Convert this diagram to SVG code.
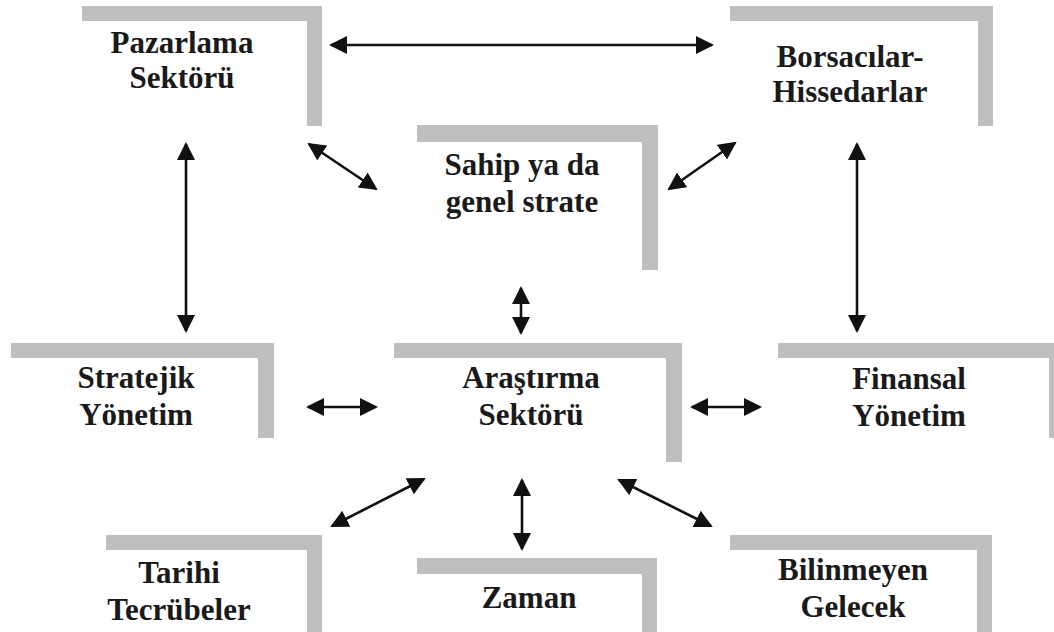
<svg xmlns="http://www.w3.org/2000/svg" width="1054" height="632" viewBox="0 0 1054 632">
<style>
.bar{fill:#bfbfbf}
.t{font-family:"Liberation Serif","Times New Roman",serif;font-weight:bold;font-size:31px;fill:#1a1a1a;text-anchor:middle}
.c{stroke:#111;stroke-width:2.6;fill:none;marker-start:url(#ah);marker-end:url(#ah)}
</style>
<defs>
<marker id="ah" markerUnits="userSpaceOnUse" markerWidth="20" markerHeight="20" viewBox="0 0 20 20" refX="16" refY="9" orient="auto-start-reverse">
<path d="M0,0 L18,9 L0,18 Z" fill="#111"/>
</marker>
</defs>
<rect width="1054" height="632" fill="#fff"/>
<g id="pazarlama">
<path class="bar" d="M82,6 H322 V126 H307 V21 H82 Z"/>
<text class="t" x="182" y="53">Pazarlama</text>
<text class="t" x="182" y="88">Sektörü</text>
</g>
<g id="borsacilar">
<path class="bar" d="M730,6 H993 V126 H978 V21 H730 Z"/>
<text class="t" x="850" y="67">Borsacılar-</text>
<text class="t" x="850" y="102">Hissedarlar</text>
</g>
<g id="sahip">
<path class="bar" d="M417,125 H658 V270 H642 V142 H417 Z"/>
<text class="t" x="522" y="175">Sahip ya da</text>
<text class="t" x="522" y="212">genel strate</text>
</g>
<g id="stratejik">
<path class="bar" d="M11,343 H274 V438 H258 V358 H11 Z"/>
<text class="t" x="136" y="388">Stratejik</text>
<text class="t" x="136" y="425">Yönetim</text>
</g>
<g id="arastirma">
<path class="bar" d="M394,343 H682 V462 H666 V358 H394 Z"/>
<text class="t" x="531" y="388">Araştırma</text>
<text class="t" x="531" y="425">Sektörü</text>
</g>
<g id="finansal">
<path class="bar" d="M778,343 H1064 V438 H1049 V358 H778 Z"/>
<text class="t" x="909" y="389">Finansal</text>
<text class="t" x="909" y="426">Yönetim</text>
</g>
<g id="tarihi">
<path class="bar" d="M106,535 H322 V632 H307 V550 H106 Z"/>
<text class="t" x="179" y="583">Tarihi</text>
<text class="t" x="179" y="620">Tecrübeler</text>
</g>
<g id="zaman">
<path class="bar" d="M417,558 H657 V632 H642 V574 H417 Z"/>
<text class="t" x="529" y="608">Zaman</text>
</g>
<g id="bilinmeyen">
<path class="bar" d="M730,535 H992 V632 H977 V550 H730 Z"/>
<text class="t" x="853" y="580">Bilinmeyen</text>
<text class="t" x="853" y="617">Gelecek</text>
</g>
<g id="connectors">
<line class="c" x1="331" y1="45" x2="712" y2="45"/>
<line class="c" x1="309" y1="144" x2="376" y2="189"/>
<line class="c" x1="669" y1="189" x2="735" y2="143"/>
<line class="c" x1="186" y1="144" x2="186" y2="331"/>
<line class="c" x1="857" y1="144" x2="857" y2="331"/>
<line class="c" x1="521" y1="288" x2="521" y2="333"/>
<line class="c" x1="308" y1="407" x2="376" y2="407"/>
<line class="c" x1="692" y1="407" x2="760" y2="407"/>
<line class="c" x1="332" y1="526" x2="424" y2="479"/>
<line class="c" x1="522" y1="480" x2="522" y2="549"/>
<line class="c" x1="619" y1="480" x2="711" y2="526"/>
</g>
</svg>
